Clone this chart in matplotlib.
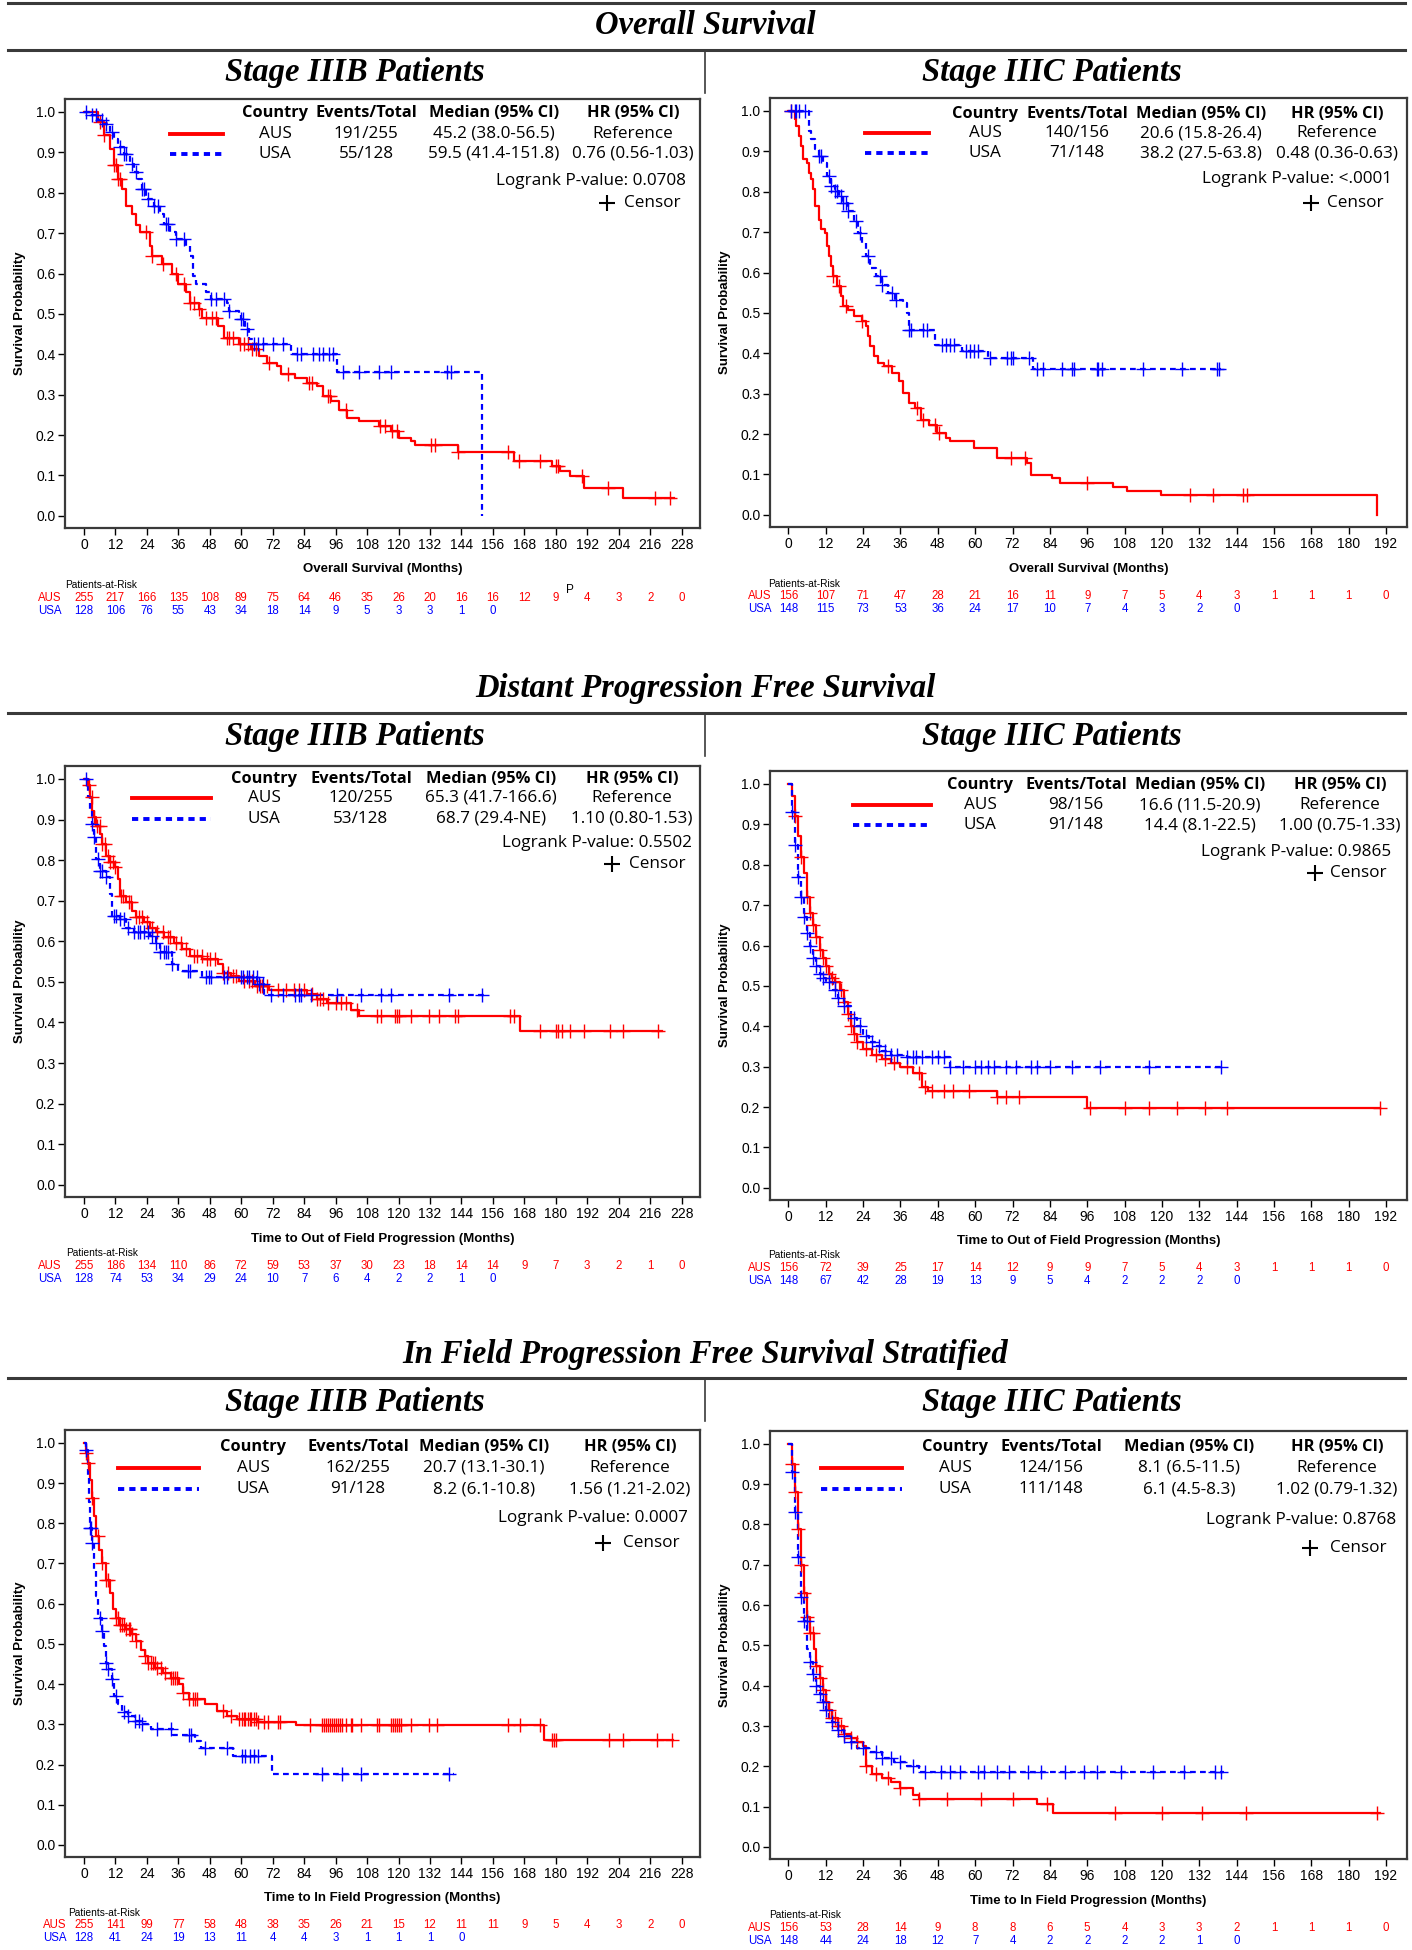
import matplotlib
matplotlib.use("Agg")
import matplotlib.pyplot as plt
import numpy as np
from matplotlib import font_manager
from matplotlib.lines import Line2D
from matplotlib.transforms import blended_transform_factory

# ---------------- data ----------------
section_titles = ["Overall Survival", "Distant Progression Free Survival",
                  "In Field Progression Free Survival Stratified"]
stage_titles = ["Stage IIIB Patients", "Stage IIIC Patients"]
x_labels = ["Overall Survival (Months)", "Time to Out of Field Progression (Months)",
            "Time to In Field Progression (Months)"]
groups = ["AUS", "USA"]

# Overall survival, stage IIIB
os_b_aus_t = [0, 5.4, 7.7, 10, 11.5, 13, 14.6, 16, 18.4, 20, 21.4, 25.3, 26, 29.9, 33.7, 36, 39, 40.6,
              43.7, 45.2, 51.3, 53.6, 59, 63.6, 66.6, 69.7, 73.5, 75, 80.4, 85, 88.8, 91, 94.2, 97.3,
              100.3, 105, 112.6, 117, 120, 124.9, 126.4, 142.5, 164, 178.5, 181.5, 185.4, 190.7, 205.7]
os_b_aus_s = [1.0, .975, .942, .909, .868, .834, .81, .768, .748, .719, .702, .669, .644, .623, .599,
              .574, .553, .528, .512, .491, .47, .441, .425, .412, .396, .379, .371, .350, .342, .329,
              .321, .296, .284, .263, .243, .234, .222, .209, .193, .185, .176, .157, .137, .123, .110,
              .098, .069, .044]
os_b_aus_end = 225
os_b_aus_c = [6, 7.7, 11.5, 12.3, 13, 13.8, 23.7, 26, 30, 35, 38, 40.6, 42, 43.7, 46.5, 48.8, 50.5,
              54.4, 55.5, 57, 59.5, 61, 62.5, 64, 65.5, 70.5, 78, 86, 87, 93, 94, 100, 113, 115, 117.5,
              119.5, 132.5, 134, 142.5, 161.6, 166, 174, 180, 181, 190, 200, 218, 223.7]
os_b_usa_t = [0, 3, 5.4, 7.7, 10, 11.5, 13, 15.3, 17.6, 19, 20.7, 22.2, 23.7, 26.8, 29, 30.6, 33, 35.2,
              39, 40.6, 41.4, 42.9, 46.7, 48.3, 54.4, 55.2, 59, 59.8, 61.3, 62.8, 64.3, 79, 96.5, 151.7]
os_b_usa_s = [1.0, .992, .98, .971, .95, .934, .913, .897, .872, .851, .834, .81, .785, .768, .748, .723,
              .702, .685, .669, .644, .594, .574, .553, .538, .528, .507, .503, .487, .462, .437, .425,
              .40, .356, 0.0]
os_b_usa_end = 151.7
os_b_usa_c = [0.8, 3, 4.6, 6.9, 8.4, 10.7, 13.8, 15.3, 16, 18.4, 20, 22.2, 23, 24.5, 26.8, 28.3, 31.4,
              32.2, 35.2, 38.3, 48.3, 50.5, 53.6, 55.2, 59.8, 60.5, 62, 65, 66.3, 68.2, 72, 75.8, 81.2,
              82.7, 87.3, 89.6, 91.2, 93.5, 95, 98.8, 105, 112.6, 117.2, 138.6, 139.9]

# Overall survival, stage IIIC
os_c_aus_t = [0, 2, 2.6, 3.3, 3.9, 4.6, 5.9, 6.6, 7.2, 7.9, 8.5, 9.8, 10.5, 11.8, 12.5, 13.1, 13.8, 14.4,
              15.7, 17, 17.7, 19, 21, 23.6, 24.9, 25.6, 26.2, 27.5, 28.8, 30.8, 33.4, 35.4, 36.7, 38.7,
              40.6, 42.6, 45.2, 47.9, 50.5, 51.8, 59.6, 66.9, 76.7, 78, 84.6, 87.2, 104.2, 108.8, 119.7,
              189.2]
os_c_aus_s = [1.0, .979, .963, .938, .913, .88, .872, .847, .831, .806, .764, .731, .707, .698, .665,
              .64, .616, .591, .566, .541, .517, .507, .492, .479, .467, .442, .417, .393, .376, .368,
              .351, .331, .302, .277, .264, .236, .223, .202, .19, .182, .165, .14, .128, .099, .091,
              .08, .07, .06, .05, 0.0]
os_c_aus_end = 189.2
os_c_aus_c = [0.7, 14.4, 16.4, 18.4, 23.6, 32.1, 41.3, 43.3, 47.2, 48.5, 71.4, 76, 96, 128.9, 136.3,
              146.2, 147.5]
os_c_usa_t = [0, 6.6, 7.2, 8.5, 9.8, 11.1, 12.5, 13.8, 15.1, 16.4, 17.7, 19, 21, 22.3, 23.6, 24.9, 26.2,
              28.2, 30.2, 32.1, 34.1, 36.7, 38, 38.7, 47.2, 55.7, 64.2, 78.7]
os_c_usa_s = [1.0, .95, .93, .905, .888, .872, .839, .814, .802, .789, .773, .752, .727, .698, .674, .64,
              .612, .591, .57, .55, .533, .525, .5, .457, .421, .405, .388, .36]
os_c_usa_end = 139
os_c_usa_c = [0.7, 2, 2.6, 3.3, 5.2, 9.8, 10.5, 13.1, 13.8, 15.1, 15.7, 17, 17.7, 18.4, 19, 21.6, 22.9,
              25.6, 29.5, 30.2, 33.4, 34.7, 38.7, 39.3, 43.3, 44.6, 49.2, 50.5, 51.8, 53.1, 57, 58.3,
              59.6, 61, 64.9, 70.1, 71.4, 72.1, 77.3, 80, 81.9, 87.8, 91.1, 91.8, 99, 99.6, 100.6, 114,
              126.5, 137.7, 138.3]

# Distant progression free survival, stage IIIB
dp_b_aus_t = [0, 1.5, 2.3, 3.1, 3.8, 4.6, 6.1, 6.9, 8.4, 9.9, 11.5, 13, 13.8, 16.1, 18.4, 19.9, 23, 25.3,
              27.6, 30.6, 34.5, 37.5, 40.6, 45.2, 51.3, 52.9, 55.9, 59, 65.3, 70.5, 85, 88.8, 92.7,
              101.9, 105, 166.2]
dp_b_aus_s = [1.0, .984, .955, .922, .906, .885, .864, .84, .811, .795, .782, .753, .712, .696, .675,
              .659, .647, .634, .622, .61, .597, .581, .565, .556, .544, .523, .515, .503, .491, .48,
              .47, .458, .449, .431, .417, .378]
dp_b_aus_end = 220.6
dp_b_aus_c = [2, 3, 4, 5, 6, 7, 8, 9, 10, 11, 12, 14, 15, 17, 18, 20, 21, 22, 24, 26, 28, 30, 32, 33,
              35, 37, 39, 42, 43, 45, 47, 48, 50, 53, 55, 57, 58, 61, 63, 64, 66, 67, 68, 70, 74, 77,
              80, 82, 84, 87, 89, 90, 91, 93, 96, 98, 100, 104, 111.9, 113.4, 118.8, 119.5, 120.3,
              124.9, 131.8, 135.6, 141.4, 142.5, 162.4, 164, 173.9, 180, 180.8, 182.3, 185.4, 190.7,
              200.7, 205.8, 219.1]
dp_b_usa_t = [0, 1.5, 2.3, 3.1, 3.8, 4.6, 6.1, 8.4, 9.9, 10.7, 13.8, 16.1, 19.2, 25.3, 27.6, 29.1, 33.7,
              36, 45.2, 66, 68.7]
dp_b_usa_s = [1.0, .955, .922, .889, .856, .803, .774, .758, .717, .663, .655, .634, .622, .614, .597,
              .573, .544, .528, .511, .495, .468]
dp_b_usa_end = 153.2
dp_b_usa_c = [0.8, 3.1, 3.8, 5.4, 6.1, 6.9, 8.4, 11.5, 12.3, 13.8, 15.3, 16.9, 19.2, 20.7, 21.5, 23,
              24.5, 26, 27.6, 29.1, 30.6, 31.4, 32.2, 33.7, 39.8, 40.6, 46.7, 47.5, 48.3, 53.6, 54.4,
              59.8, 60.5, 62, 62.8, 64.3, 65.9, 66.6, 68.2, 71.2, 75.8, 80.4, 81.9, 82.7, 86.6, 96.5,
              105.7, 113.4, 117.2, 139.4, 151.7]

# Distant progression free survival, stage IIIC
dp_c_aus_t = [0, 1, 2, 3, 4, 5, 6, 7, 8, 9, 10, 11, 12, 13, 14, 15, 16.6, 18, 19, 20, 21, 22, 24, 27,
              30, 33, 36, 40, 43, 45, 67, 96]
dp_c_aus_s = [1.0, .97, .92, .87, .82, .78, .72, .68, .65, .62, .59, .57, .55, .53, .52, .51, .49, .46,
              .43, .40, .38, .36, .345, .33, .32, .31, .30, .285, .25, .24, .225, .197]
dp_c_aus_end = 190
dp_c_aus_c = [2, 4, 6, 7, 8, 9, 10, 11, 12, 13, 14, 15, 17, 18, 19, 20, 21, 22, 25, 28, 31, 34, 38, 42,
              44, 46, 50, 53, 58, 67, 70, 74, 97, 108, 116, 125, 134, 141, 190]
dp_c_usa_t = [0, 1, 2, 3, 4, 5, 6, 7, 8, 9, 10, 11, 12, 14.4, 16, 18, 20, 22, 24, 26, 28, 30, 33, 38,
              52]
dp_c_usa_s = [1.0, .93, .85, .77, .72, .67, .63, .60, .57, .55, .53, .52, .51, .49, .47, .45, .42, .40,
              .375, .36, .35, .34, .33, .323, .30]
dp_c_usa_end = 140
dp_c_usa_c = [1, 2, 3, 4, 5, 6, 7, 8, 9, 10, 11, 13, 15, 16, 18, 21, 23, 25, 27, 29, 31, 33, 35, 38,
              40, 41, 43, 46, 48, 50, 52, 56, 60, 62, 64, 66, 70, 73, 78, 80, 84, 91, 100, 116, 139]

# In field progression free survival, stage IIIB
ip_b_aus_t = [0, 0.8, 1.5, 2.3, 3.1, 3.9, 4.6, 5.9, 6.9, 8.5, 10, 11.1, 12.3, 13.9, 16.2, 18.5, 20, 21.6,
              23.1, 24.6, 27, 30, 33.1, 36.2, 37.7, 40, 46.2, 50.8, 54.7, 58.5, 66.2, 80.9, 175.6]
ip_b_aus_s = [1.0, .974, .95, .908, .863, .817, .768, .734, .701, .66, .627, .586, .565, .548, .536,
              .524, .507, .486, .47, .453, .441, .428, .416, .4, .379, .362, .35, .333, .321, .314,
              .307, .299, .261]
ip_b_aus_end = 224.9
ip_b_aus_c = [0.8, 1.5, 3.1, 5.4, 6.9, 8.5, 9.2, 12.3, 13.1, 13.9, 14.6, 15.4, 16.2, 17, 17.7, 18.5, 20,
              23.1, 24.6, 25.4, 26.2, 26.9, 27.7, 29.3, 30.8, 33.1, 33.9, 34.7, 35.4, 37.7, 40, 41.6,
              42.4, 43.1, 53.1, 56.2, 59.3, 60.1, 60.9, 61.6, 62.4, 63.2, 63.9, 64.7, 65.5, 66.2, 68.5,
              70.1, 73.9, 74.7, 86.3, 90.9, 91.7, 92.4, 93.2, 94, 94.7, 95.5, 96.3, 97, 97.8, 98.6,
              100.1, 101.7, 102.4, 105.5, 111.7, 112.5, 117.1, 117.9, 118.6, 119.4, 120.2, 120.9,
              124.8, 131.7, 134.8, 161.8, 166.4, 174.1, 178.7, 179.4, 180.2, 200.3, 205.7, 218.8, 224.2]
ip_b_usa_t = [0, 0.8, 1.5, 1.8, 2.3, 3.1, 3.9, 4.6, 5.4, 6.9, 7.7, 8.5, 9.2, 10.5, 11.6, 13.1, 14.6,
              16.9, 19.3, 21.6, 25.4, 33.9, 42.4, 44.7, 57, 71.6]
ip_b_usa_s = [1.0, .983, .916, .854, .788, .751, .685, .619, .565, .532, .495, .453, .437, .412, .371,
              .35, .331, .321, .309, .3, .288, .273, .259, .24, .222, .176]
ip_b_usa_end = 141
ip_b_usa_c = [0.8, 2.3, 2.8, 3.1, 6.2, 6.9, 8.5, 9.2, 10.8, 12.3, 15.4, 16.9, 19.3, 20.8, 22.3, 27.7,
              33.1, 40, 40.8, 46.2, 54.7, 60.1, 61.6, 63.2, 64.7, 66.2, 90.9, 98.6, 105.5, 139.4]

# In field progression free survival, stage IIIC
ip_c_aus_t = [0, 1, 2, 3, 4, 5, 6, 7, 8.1, 9, 10, 11, 12, 13, 14, 16, 18, 20, 22, 24, 25, 27, 30, 33,
              36, 40, 42, 80, 85]
ip_c_aus_s = [1.0, .95, .88, .79, .70, .63, .57, .53, .49, .45, .42, .39, .36, .34, .32, .30, .28, .27,
              .26, .25, .20, .18, .17, .16, .145, .13, .12, .106, .085]
ip_c_aus_end = 190
ip_c_aus_c = [1, 2, 3, 4, 5, 6, 7, 8, 9, 10, 11, 12, 13, 14, 15, 16, 17, 18, 20, 22, 25, 28, 32, 36,
              42, 51, 62, 72, 83, 105, 120, 133, 147, 189]
ip_c_usa_t = [0, 1, 2, 3, 4, 5, 6.1, 7, 8, 9, 10, 11, 12, 13, 14, 16, 18, 20, 22, 26, 30, 34, 38, 42]
ip_c_usa_s = [1.0, .93, .83, .72, .62, .56, .49, .46, .43, .40, .38, .36, .34, .32, .31, .29, .275, .26,
              .245, .235, .22, .21, .20, .185]
ip_c_usa_end = 140
ip_c_usa_c = [1, 2, 3, 4, 5, 6, 7, 8, 9, 10, 11, 12, 14, 16, 18, 20, 24, 28, 30, 33, 36, 40, 44, 49, 52,
              55, 61, 63, 67, 71, 77, 81, 89, 95, 99, 107, 117, 127, 137, 139]

# patients at risk (every 12 months)
os_b_risk_aus = [255, 217, 166, 135, 108, 89, 75, 64, 46, 35, 26, 20, 16, 16, 12, 9, 4, 3, 2, 0]
os_b_risk_usa = [128, 106, 76, 55, 43, 34, 18, 14, 9, 5, 3, 3, 1, 0]
os_c_risk_aus = [156, 107, 71, 47, 28, 21, 16, 11, 9, 7, 5, 4, 3, 1, 1, 1, 0]
os_c_risk_usa = [148, 115, 73, 53, 36, 24, 17, 10, 7, 4, 3, 2, 0]
dp_b_risk_aus = [255, 186, 134, 110, 86, 72, 59, 53, 37, 30, 23, 18, 14, 14, 9, 7, 3, 2, 1, 0]
dp_b_risk_usa = [128, 74, 53, 34, 29, 24, 10, 7, 6, 4, 2, 2, 1, 0]
dp_c_risk_aus = [156, 72, 39, 25, 17, 14, 12, 9, 9, 7, 5, 4, 3, 1, 1, 1, 0]
dp_c_risk_usa = [148, 67, 42, 28, 19, 13, 9, 5, 4, 2, 2, 2, 0]
ip_b_risk_aus = [255, 141, 99, 77, 58, 48, 38, 35, 26, 21, 15, 12, 11, 11, 9, 5, 4, 3, 2, 0]
ip_b_risk_usa = [128, 41, 24, 19, 13, 11, 4, 4, 3, 1, 1, 1, 0]
ip_c_risk_aus = [156, 53, 28, 14, 9, 8, 8, 6, 5, 4, 3, 3, 2, 1, 1, 1, 0]
ip_c_risk_usa = [148, 44, 24, 18, 12, 7, 4, 2, 2, 2, 2, 1, 0]

# legend statistics: events/total, median (95% CI), HR (95% CI), log-rank p
os_b_stats = [["191/255", "45.2 (38.0-56.5)", "Reference"], ["55/128", "59.5 (41.4-151.8)", "0.76 (0.56-1.03)"], "0.0708"]
os_c_stats = [["140/156", "20.6 (15.8-26.4)", "Reference"], ["71/148", "38.2 (27.5-63.8)", "0.48 (0.36-0.63)"], "<.0001"]
dp_b_stats = [["120/255", "65.3 (41.7-166.6)", "Reference"], ["53/128", "68.7 (29.4-NE)", "1.10 (0.80-1.53)"], "0.5502"]
dp_c_stats = [["98/156", "16.6 (11.5-20.9)", "Reference"], ["91/148", "14.4 (8.1-22.5)", "1.00 (0.75-1.33)"], "0.9865"]
ip_b_stats = [["162/255", "20.7 (13.1-30.1)", "Reference"], ["91/128", "8.2 (6.1-10.8)", "1.56 (1.21-2.02)"], "0.0007"]
ip_c_stats = [["124/156", "8.1 (6.5-11.5)", "Reference"], ["111/148", "6.1 (4.5-8.3)", "1.02 (0.79-1.32)"], "0.8768"]

# ---------------- fonts ----------------
def has_font(name):
    try:
        font_manager.findfont(font_manager.FontProperties(family=[name]), fallback_to_default=False)
        return True
    except Exception:
        return False

NARROW = "Liberation Sans Narrow" if has_font("Liberation Sans Narrow") else "Liberation Sans"
SANS = "Open Sans"
SERIF = "Liberation Serif"
plt.rcParams["font.family"] = [NARROW, "DejaVu Sans"]

W, H = 1412, 1950
RED = "#ff0000"
BLUE = "#0000ff"
GREY = "#3a3a3a"
LEG_FS = 12.3
HEAD_FS = 11.8
TITLE_FS = 23.5

fig = plt.figure(figsize=(W / 100, H / 100), dpi=100)
fig.patch.set_facecolor("white")


def fx(px):
    return px / W


def fy(py):
    return 1 - py / H


def hline(y, x0=8, x1=1405, lw=2.2):
    fig.add_artist(Line2D([fx(x0), fx(x1)], [fy(y), fy(y)], color=GREY, lw=lw))


def vline(x, y0, y1, lw=1.2):
    fig.add_artist(Line2D([fx(x), fx(x)], [fy(y0), fy(y1)], color=GREY, lw=lw))


def draw_curve(ax, t, s, end, cens, color, dashed):
    xs = list(t) + [end]
    ys = list(s) + [s[-1]]
    ls = (0, (2.6, 1.9)) if dashed else "-"
    ax.step(xs, ys, where="post", color=color, lw=1.6, ls=ls, zorder=3)
    idx = np.searchsorted(np.array(t), np.array(cens), side="right") - 1
    ax.plot(cens, np.array(s)[idx], ls="none", marker="+", ms=9.5, mew=1.0, color=color, zorder=4)


def panel(box, xmax, curves, stats, leg, risk, risk_pos, xlabel, xlab_y, ylab_x):
    x0, y0, x1, y1 = box
    ax = fig.add_axes([fx(x0), fy(y1), fx(x1) - fx(x0), fy(y0) - fy(y1)])
    t0_px, tmax_px = leg["t0"], leg["tmax_px"]
    scale = (tmax_px - t0_px) / xmax
    ax.set_xlim(-(t0_px - x0) / scale, xmax + (x1 - tmax_px) / scale)
    ax.set_ylim(-0.03, 1.032)
    for (t, s, end, c), col, dashed in zip(curves, [RED, BLUE], [False, True]):
        draw_curve(ax, t, s, end, c, col, dashed)
    ax.set_xticks(np.arange(0, xmax + 1, 12))
    ax.set_yticks(np.arange(0, 1.01, 0.1))
    ax.set_yticklabels([f"{v:.1f}" for v in np.arange(0, 1.01, 0.1)])
    ax.tick_params(axis="both", direction="out", length=5, width=1.0, colors="black",
                   labelsize=10, pad=2)
    for sp in ax.spines.values():
        sp.set_color(GREY)
        sp.set_linewidth(1.6)

    # axis labels
    fig.text(fx((x0 + x1) / 2), fy(xlab_y), xlabel, ha="center", va="center",
             fontsize=9.5, fontweight="bold")
    fig.text(fx(ylab_x), fy((y0 + y1) / 2), "Survival Probability", ha="center", va="center",
             rotation=90, fontsize=9.5, fontweight="bold")

    # in-plot legend table
    cols = leg["cols"]
    hy, ay, uy = leg["rows"]
    for x, txt in zip(cols, ["Country", "Events/Total", "Median (95% CI)", "HR (95% CI)"]):
        fig.text(fx(x), fy(hy), txt, ha="center", va="center", fontsize=HEAD_FS,
                 fontweight="bold", family=SANS)
    for ry, g, row in zip([ay, uy], groups, stats[:2]):
        for x, txt in zip(cols, [g] + row):
            fig.text(fx(x), fy(ry), txt, ha="center", va="center", fontsize=LEG_FS, family=SANS)
    lx0, lx1 = leg["line"]
    fig.add_artist(Line2D([fx(lx0), fx(lx1)], [fy(ay), fy(ay)], color=RED, lw=2.8))
    fig.add_artist(Line2D([fx(lx0), fx(lx1)], [fy(uy), fy(uy)], color=BLUE, lw=2.8,
                          ls=(0, (1.6, 1.3))))
    lr_x, lr_y = leg["logrank"]
    fig.text(fx(lr_x), fy(lr_y), "Logrank P-value: " + stats[2], ha="right", va="center",
             fontsize=LEG_FS, family=SANS)
    px_, cr_x, c_y = leg["censor"]
    fig.add_artist(Line2D([fx(px_)], [fy(c_y)], marker="+", ms=12, mew=1.5, color="black"))
    fig.text(fx(cr_x), fy(c_y), "Censor", ha="right", va="center", fontsize=LEG_FS, family=SANS)

    # patients at risk
    lab_x, pr_x, pr_y, a_y, u_y = risk_pos
    fig.text(fx(pr_x), fy(pr_y), "Patients-at-Risk", ha="left", va="center", fontsize=7.3)
    tr = blended_transform_factory(ax.transData, fig.transFigure)
    for vals, ry, col, g in zip(risk, [a_y, u_y], [RED, BLUE], groups):
        fig.text(fx(lab_x), fy(ry), g, ha="center", va="center", fontsize=8.3, color=col)
        for i, v in enumerate(vals):
            ax.text(i * 12, fy(ry), str(v), transform=tr, ha="center", va="center",
                    fontsize=8.3, color=col, clip_on=False)
    return ax


# ---------------- section headers ----------------
hline(3)
for ty, rule_y, st_y, title in [(25, 50, 72, section_titles[0]),
                                (688, 713, 737, section_titles[1]),
                                (1354, 1378, 1403, section_titles[2])]:
    fig.text(fx(705), fy(ty), title, ha="center", va="center", fontsize=TITLE_FS,
             fontweight="bold", fontstyle="italic", family=SERIF)
    hline(rule_y)
    vline(705, rule_y, rule_y + 43)
    fig.text(fx(355), fy(st_y), stage_titles[0], ha="center", va="center", fontsize=TITLE_FS,
             fontweight="bold", fontstyle="italic", family=SERIF)
    fig.text(fx(1052), fy(st_y), stage_titles[1], ha="center", va="center", fontsize=TITLE_FS,
             fontweight="bold", fontstyle="italic", family=SERIF)

# ---------------- panels ----------------
L_T = dict(t0=84, tmax_px=681.6)
R_T = dict(t0=788.4, tmax_px=1386)

panel((65, 99, 700, 528), 228,
      [(os_b_aus_t, os_b_aus_s, os_b_aus_end, os_b_aus_c),
       (os_b_usa_t, os_b_usa_s, os_b_usa_end, os_b_usa_c)],
      os_b_stats,
      dict(L_T, cols=[275, 366, 494, 633], rows=(113, 134, 154), line=(170, 223),
           logrank=(686, 181), censor=(607, 681, 203)),
      [os_b_risk_aus, os_b_risk_usa], (50, 65, 585, 598, 611), x_labels[0], 569, 20)
fig.text(fx(570), fy(590), "P", ha="center", va="center", fontsize=8.5, color="black")

panel((770, 98, 1407, 527), 192,
      [(os_c_aus_t, os_c_aus_s, os_c_aus_end, os_c_aus_c),
       (os_c_usa_t, os_c_usa_s, os_c_usa_end, os_c_usa_c)],
      os_c_stats,
      dict(R_T, cols=[985, 1077, 1201, 1337], rows=(114, 133, 153), line=(865, 929),
           logrank=(1392, 179), censor=(1311, 1384, 203)),
      [os_c_risk_aus, os_c_risk_usa], (760, 768, 584, 596, 609), x_labels[0], 569, 725)

panel((65, 766, 700, 1197), 228,
      [(dp_b_aus_t, dp_b_aus_s, dp_b_aus_end, dp_b_aus_c),
       (dp_b_usa_t, dp_b_usa_s, dp_b_usa_end, dp_b_usa_c)],
      dp_b_stats,
      dict(L_T, cols=[264, 361, 491, 632], rows=(779, 798, 819), line=(132, 211),
           logrank=(692, 843), censor=(612, 686, 864)),
      [dp_b_risk_aus, dp_b_risk_usa], (50, 66, 1253, 1266, 1279), x_labels[1], 1239, 20)

panel((770, 771, 1407, 1200), 192,
      [(dp_c_aus_t, dp_c_aus_s, dp_c_aus_end, dp_c_aus_c),
       (dp_c_usa_t, dp_c_usa_s, dp_c_usa_end, dp_c_usa_c)],
      dp_c_stats,
      dict(R_T, cols=[980, 1076, 1200, 1340], rows=(785, 805, 825), line=(853, 931),
           logrank=(1391, 852), censor=(1315, 1387, 873)),
      [dp_c_risk_aus, dp_c_risk_usa], (760, 768, 1255, 1268, 1281), x_labels[1], 1241, 725)

panel((65, 1430, 700, 1857), 228,
      [(ip_b_aus_t, ip_b_aus_s, ip_b_aus_end, ip_b_aus_c),
       (ip_b_usa_t, ip_b_usa_s, ip_b_usa_end, ip_b_usa_c)],
      ip_b_stats,
      dict(L_T, cols=[253, 358, 484, 630], rows=(1447, 1468, 1489), line=(118, 199),
           logrank=(688, 1518), censor=(603, 680, 1543)),
      [ip_b_risk_aus, ip_b_risk_usa], (55, 68, 1913, 1925, 1938), x_labels[2], 1898, 20)

panel((770, 1431, 1407, 1859), 192,
      [(ip_c_aus_t, ip_c_aus_s, ip_c_aus_end, ip_c_aus_c),
       (ip_c_usa_t, ip_c_usa_s, ip_c_usa_end, ip_c_usa_c)],
      ip_c_stats,
      dict(R_T, cols=[955, 1051, 1189, 1337], rows=(1447, 1468, 1489), line=(821, 902),
           logrank=(1396, 1520), censor=(1310, 1387, 1548)),
      [ip_c_risk_aus, ip_c_risk_usa], (760, 769, 1915, 1928, 1941), x_labels[2], 1901, 725)

fig.savefig("out.png", dpi=100, facecolor="white")
